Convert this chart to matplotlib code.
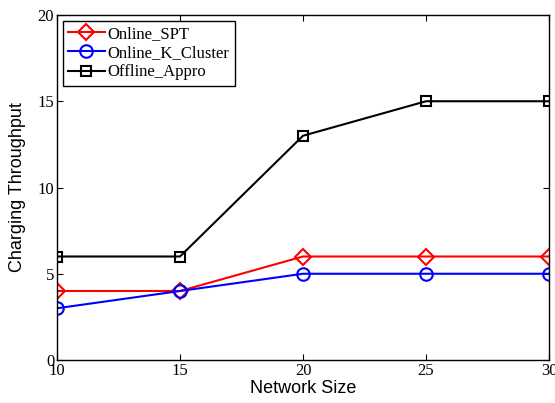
import matplotlib.pyplot as plt

network_size = [10, 15, 20, 25, 30]
online_spt = [4, 4, 6, 6, 6]
online_k_cluster = [3, 4, 5, 5, 5]
offline_appro = [6, 6, 13, 15, 15]

fig = plt.figure(figsize=(5.55, 4.03), dpi=100)
ax = fig.add_axes([57/555, 1 - 360/403, 492/555, 345/403])

ax.plot(network_size, online_spt, label='Online_SPT', marker='D', color='r',
        linewidth=1.5, markersize=8, markerfacecolor='none', markeredgewidth=1.5)
ax.plot(network_size, online_k_cluster, label='Online_K_Cluster', marker='o', color='b',
        linewidth=1.5, markersize=9, markerfacecolor='none', markeredgewidth=1.5)
ax.plot(network_size, offline_appro, label='Offline_Appro', marker='s', color='k',
        linewidth=1.5, markersize=7, markerfacecolor='none', markeredgewidth=1.5)

ax.set_xlim(10, 30)
ax.set_ylim(0, 20)
ax.set_xticks([10, 15, 20, 25, 30])
ax.set_yticks([0, 5, 10, 15, 20])
ax.tick_params(direction='in', top=True, right=True, length=4, labelsize=12, pad=2)
for lab in ax.get_xticklabels() + ax.get_yticklabels():
    lab.set_family('Liberation Serif')
for sp in ax.spines.values():
    sp.set_linewidth(1.0)

ax.set_xlabel('Network Size', fontsize=13, family='Liberation Sans', labelpad=1)
ax.set_ylabel('Charging Throughput', fontsize=13, family='Liberation Sans', labelpad=8)

leg = ax.legend(loc='upper left', prop={'family': 'Liberation Serif', 'size': 12},
                fancybox=False, edgecolor='k', framealpha=1, handlelength=2.2,
                borderpad=0.3, labelspacing=0.2, handletextpad=0.2, borderaxespad=0.35)
leg.get_frame().set_linewidth(1.0)

plt.savefig('out.png', dpi=100)
